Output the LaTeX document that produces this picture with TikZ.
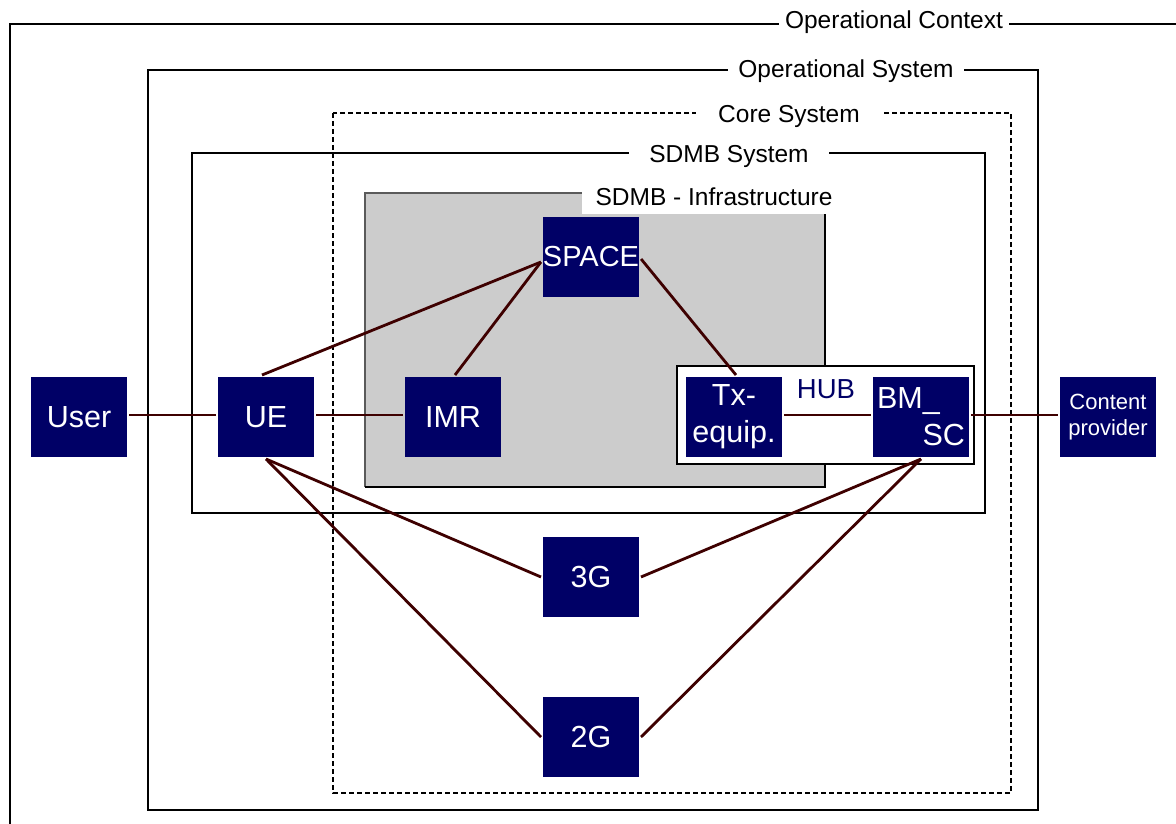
\documentclass[tikz,border=0pt]{standalone}
\usepackage{fontspec}
\setmainfont{Liberation Sans}
\usetikzlibrary{calc}
\definecolor{navy}{RGB}{0,0,102}
\definecolor{wire}{RGB}{62,0,0}
\definecolor{infra}{RGB}{204,204,204}
\definecolor{bevel}{RGB}{90,90,90}
\newcommand\unitfont{\fontsize{30.5}{37}\selectfont}
\newcommand\smallunitfont{\fontsize{22}{26}\selectfont}
\newcommand\framefont{\fontsize{24.5}{28}\selectfont}
\tikzset{
  frame/.style={draw=black, line width=1.6pt},
  framelabel/.style={fill=white, inner ysep=3pt, font=\framefont},
  unit/.style={fill=navy, text=white, minimum width=96pt, minimum height=80pt,
    inner sep=0pt, outer sep=2pt, font=\unitfont, align=center},
  link/.style={draw=wire, line width=2.8pt}
}
\begin{document}
\begin{tikzpicture}[x=1pt,y=-1pt]
\useasboundingbox (0,0) rectangle (1176,824);
\fill[white] (0,0) rectangle (1176,824);

% nested system boundaries
\begin{scope}
  \clip (0,0) rectangle (1176,824);
  \draw[frame] (10,24) rectangle (1200,850);
\end{scope}
\draw[frame] (148,70) rectangle (1038,810);
\draw[frame, line width=2pt, dash pattern=on 5pt off 3pt] (333,113) rectangle (1011,793);
\draw[frame] (192,153) rectangle (985,513);

% infrastructure area with bevelled edges
\fill[infra] (365,193) rectangle (825,487);
\draw[bevel, line width=1.5pt] (365,487) -- (365,193) -- (825,193);
\draw[black, line width=1.5pt] (825,193) -- (825,487) -- (365,487);
\node[fill=white, inner xsep=14pt, minimum height=33pt, font=\framefont] (infralabel) at (714,197) {SDMB - Infrastructure};

% hub enclosure
\draw[black, line width=1.2pt, fill=white] (677,366) rectangle (974,464);
\node[text=navy, font=\fontsize{27.5}{30}\selectfont] (hub) at (826,389) {HUB};

% boundary titles
\node[framelabel, inner xsep=6pt] (ctxlabel) at (894,22) {Operational Context};
\node[framelabel, inner xsep=10pt] (opslabel) at (846,71) {Operational System};
\node[framelabel, inner xsep=22pt] (corelabel) at (789,116) {Core System};
\node[framelabel, inner xsep=20pt] (sdmblabel) at (729,156) {SDMB System};

% system elements
\node[unit] (user) at (79,417) {User};
\node[unit] (ue) at (266,417) {UE};
\node[unit] (imr) at (453,417) {IMR};
\node[unit, font=\fontsize{29}{34}\selectfont] (space) at (591,257) {SPACE};
\node[unit] (tx) at (734,417) {Tx-\\equip.};
\node[unit, text width=88pt, align=left] (bmsc) at (921,417) {BM\_\\\hspace*{\fill}SC};
\node[unit, font=\smallunitfont] (cp) at (1108,417) {Content\\provider};
\node[unit] (g3) at (591,577) {3G};
\node[unit] (g2) at (591,737) {2G};

% connections
\draw[link] ([yshift=2pt]user.east) -- ([yshift=2pt]ue.west);
\draw[link] ([yshift=2pt]ue.east) -- ([yshift=2pt]imr.west);
\draw[link] ([xshift=-4pt]ue.north) -- ([yshift=-5pt]space.west);
\draw[link] ([xshift=2pt]imr.north) -- ([yshift=-5pt]space.west);
\draw[link] ([yshift=-2pt]space.east) -- ([xshift=2pt]tx.north);
\draw[link] ([yshift=2pt]tx.east) -- ([yshift=2pt]bmsc.west);
\draw[link] ([yshift=2pt]bmsc.east) -- ([yshift=2pt]cp.west);
\draw[link] (ue.south) -- (g3.west);
\draw[link] (ue.south) -- (g2.west);
\draw[link] (g3.east) -- (bmsc.south);
\draw[link] (g2.east) -- (bmsc.south);
\end{tikzpicture}
\end{document}
